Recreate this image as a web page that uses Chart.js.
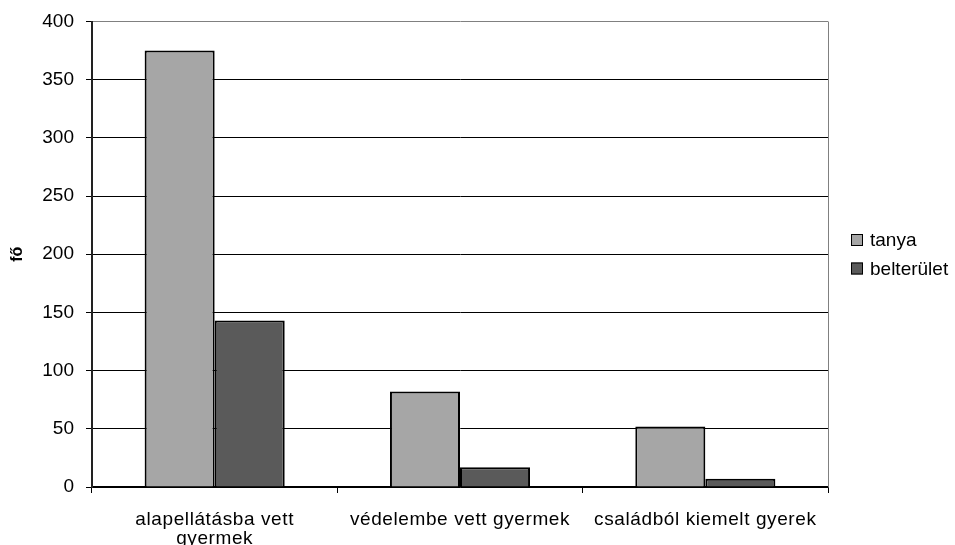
<!DOCTYPE html>
<html><head><meta charset="utf-8">
<script src="https://cdn.jsdelivr.net/npm/chart.js@4"></script>
<style>html,body{margin:0;padding:0;background:#fff}canvas{display:block}</style>
</head><body>
<canvas id="c" width="955" height="545"></canvas>
<script>
const categories = [['alapellátásba vett', 'gyermek'], 'védelembe vett gyermek', 'családból kiemelt gyerek'];
const tanyaValues = [375, 82, 52];
const belteruletValues = [143, 17, 7];
const seriesNames = ['tanya', 'belterület'];
const yAxisTitle = 'fő';
const yMin = 0, yMax = 400, yStep = 50;

const FONT = '"Liberation Sans", Arial, sans-serif';

const framePlugin = {
  id: 'frame',
  afterDraw(c) {
    const a = c.chartArea, ctx = c.ctx;
    ctx.save();
    ctx.strokeStyle = '#808080';
    ctx.lineWidth = 1;
    ctx.beginPath();
    ctx.moveTo(Math.round(a.right) + 0.5, a.top);
    ctx.lineTo(Math.round(a.right) + 0.5, a.bottom);
    ctx.stroke();
    // legend
    ctx.letterSpacing = '0px';
    ctx.font = '19px ' + FONT;
    ctx.textBaseline = 'middle';
    ctx.textAlign = 'left';
    const mid = (a.top + a.bottom) / 2;
    const n = c.data.datasets.length;
    c.data.datasets.forEach((ds, i) => {
      const y = mid + (i - (n - 1) / 2) * 28.5;
      const bx = a.right + 23;
      ctx.fillStyle = ds.backgroundColor;
      ctx.fillRect(bx, y - 6, 12, 12);
      ctx.strokeStyle = '#000';
      ctx.lineWidth = 1;
      ctx.strokeRect(bx + 0.5, y - 5.5, 11, 11);
      ctx.fillStyle = '#000';
      ctx.fillText(ds.label, bx + 19, y + 1);
    });
    ctx.restore();
  }
};

new Chart(document.getElementById('c'), {
  type: 'bar',
  data: {
    labels: categories,
    datasets: [
      { label: seriesNames[0], data: tanyaValues, backgroundColor: '#a6a6a6', borderColor: '#000', borderWidth: 2 },
      { label: seriesNames[1], data: belteruletValues, backgroundColor: '#5a5a5a', borderColor: '#000', borderWidth: 2 }
    ]
  },
  plugins: [framePlugin],
  options: {
    responsive: false,
    animation: false,
    events: [],
    layout: { padding: { top: 20, right: 127, left: 0, bottom: 0 } },
    datasets: { bar: { categoryPercentage: 0.571, barPercentage: 1.0 } },
    plugins: { legend: { display: false }, tooltip: { enabled: false } },
    scales: {
      x: {
        grid: { offset: true, drawOnChartArea: false, tickLength: 6, color: '#000', tickColor: '#000' },
        border: { color: '#000', width: 1.5 },
        ticks: { color: '#000', font: { family: FONT, size: 19, lineHeight: 0.97 }, padding: 18, maxRotation: 0, autoSkip: false },
        afterFit(s) {
          s.height = 58;
          if (!s._spacingPatched) {
            const orig = s.drawLabels;
            s.drawLabels = function (ca) {
              const ctx = this.ctx;
              const prev = ctx.letterSpacing;
              ctx.letterSpacing = '0.6px';
              orig.call(this, ca);
              ctx.letterSpacing = prev || '0px';
            };
            s._spacingPatched = true;
          }
        }
      },
      y: {
        min: yMin, max: yMax,
        ticks: { stepSize: yStep, color: '#000', font: { family: FONT, size: 19, lineHeight: 1.0 }, padding: 12 },
        grid: {
          color: (ctx) => (ctx.tick && ctx.tick.value === yMax) ? '#808080' : '#000',
          tickColor: '#000', tickLength: 6, lineWidth: 1
        },
        border: { color: '#222', width: 2 },
        title: { display: true, text: yAxisTitle, color: '#000', font: { family: FONT, size: 16, weight: 'bold' }, padding: { top: 8, bottom: 0 } },
        afterFit(s) { s.width = 92; }
      }
    }
  }
});
</script>
</body></html>
